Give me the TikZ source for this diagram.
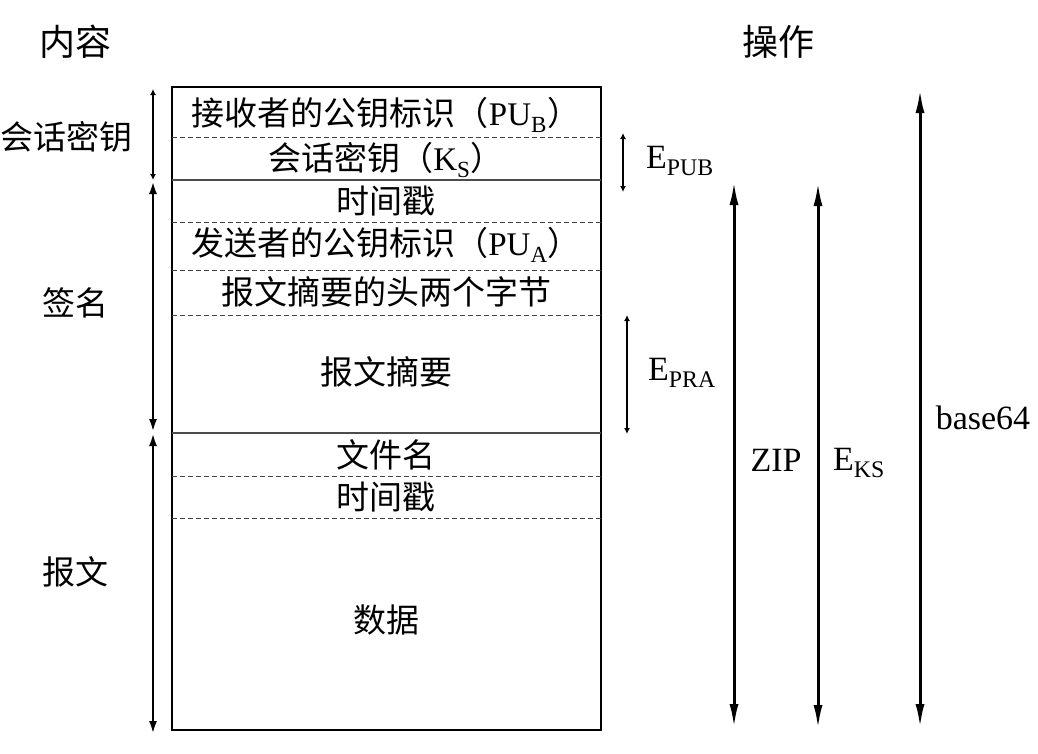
\documentclass[tikz,border=0pt]{standalone}
\usepackage{fontspec}
\setmainfont{Liberation Serif}
\newfontfamily\cjk{Noto Sans CJK SC}
\usetikzlibrary{arrows.meta}

\begin{document}
\begin{tikzpicture}[x=1pt,y=-1pt,
  field/.style={font=\cjk\fontsize{33}{38}\selectfont,inner sep=0pt},
  head/.style={font=\cjk\fontsize{36}{40}\selectfont,inner sep=0pt},
  oplab/.style={font=\fontsize{34}{38}\selectfont,inner sep=0pt},
  sep/.style={line width=1pt,black!75,dash pattern=on 5pt off 3pt},
  rule/.style={line width=1.1pt,black!70},
  span/.style={line width=2.8pt,{Latex[length=13pt,width=8pt]}-{Latex[length=13pt,width=8pt]}},
  shortspan/.style={line width=2.2pt,{Latex[length=6pt,width=6pt]}-{Latex[length=6pt,width=6pt]}},
  longspan/.style={line width=3pt,{Latex[length=24pt,width=9pt]}-{Latex[length=24pt,width=9pt]}}]
  \useasboundingbox (0,0) rectangle (1038,753);

  \node[head] (content) at (75,42) {内容};
  \node[head] (ops) at (778,42) {操作};

  \draw[line width=1.1pt] (172,87) rectangle (601,730);
  \draw[sep] (172,137)--(601,137);
  \draw[rule] (172,180)--(601,180);
  \draw[sep] (172,222)--(601,222);
  \draw[sep] (172,270)--(601,270);
  \draw[sep] (172,315)--(601,315);
  \draw[rule] (172,433)--(601,433);
  \draw[sep] (172,476)--(601,476);
  \draw[sep] (172,518)--(601,518);

  \node[field] (pub) at (386,115) {接收者的公钥标识（{\rmfamily PU\textsubscript{B}}）};
  \node[field] (ks) at (386,160) {会话密钥（{\rmfamily K\textsubscript{S}}）};
  \node[field] (ts1) at (386,201) {时间戳};
  \node[field] (pua) at (386,245) {发送者的公钥标识（{\rmfamily PU\textsubscript{A}}）};
  \node[field] (dig2) at (386,292) {报文摘要的头两个字节};
  \node[field] (dig) at (386,372) {报文摘要};
  \node[field] (fname) at (386,455) {文件名};
  \node[field] (ts2) at (386,497) {时间戳};
  \node[field] (data) at (386,620) {数据};

  \node[field] (skey) at (67,137) {会话密钥};
  \node[field] (sign) at (75,303) {签名};
  \node[field] (msg) at (75,572) {报文};

  \coordinate (sk1) at (153,89);
  \coordinate (sk2) at (153,180);
  \coordinate (sg1) at (153,181);
  \coordinate (sg2) at (153,432);
  \coordinate (ms1) at (153,433);
  \coordinate (ms2) at (153,734);
  \draw[shortspan] (sk1)--(sk2);
  \draw[span] (sg1)--(sg2);
  \draw[span] (ms1)--(ms2);

  \coordinate (pb1) at (623,133);
  \coordinate (pb2) at (623,192);
  \coordinate (pr1) at (627,315);
  \coordinate (pr2) at (627,434);
  \draw[shortspan] (pb1)--(pb2);
  \draw[shortspan] (pr1)--(pr2);
  \node[oplab] (epub) at (680,161) {E\textsubscript{PUB}};
  \node[oplab] (epra) at (682,373) {E\textsubscript{PRA}};

  \coordinate (zp1) at (734,181);
  \coordinate (zp2) at (734,728);
  \coordinate (ek1) at (818,182);
  \coordinate (ek2) at (818,729);
  \coordinate (bs1) at (920,89);
  \coordinate (bs2) at (920,728);
  \draw[longspan] (zp1)--(zp2);
  \draw[longspan] (ek1)--(ek2);
  \draw[longspan] (bs1)--(bs2);
  \node[oplab] (zip) at (776,460) {ZIP};
  \node[oplab] (eks) at (859,463) {E\textsubscript{KS}};
  \node[oplab] (b64) at (983,418) {base64};
\end{tikzpicture}
\end{document}
